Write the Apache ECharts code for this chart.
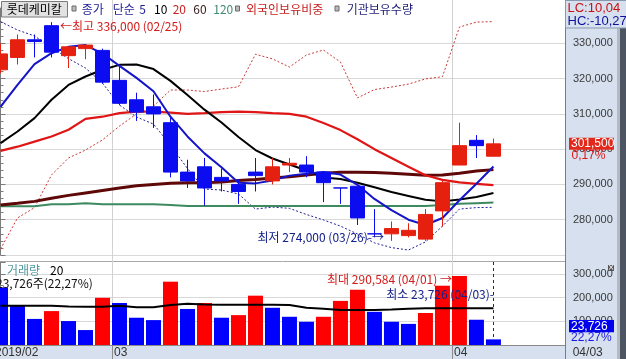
<!DOCTYPE html>
<html><head><meta charset="utf-8">
<script src="https://cdn.jsdelivr.net/npm/echarts@6/dist/echarts.min.js"></script>
<style>html,body{margin:0;padding:0;background:#fff;}#c{width:626px;height:359px;}</style>
</head><body><div id="c"></div>
<script>
// ---- data ----
const dates = ['2019/02/20','2019/02/21','2019/02/22','2019/02/25','2019/02/26','2019/02/27','2019/02/28',
  '2019/03/04','2019/03/05','2019/03/06','2019/03/07','2019/03/08','2019/03/11','2019/03/12','2019/03/13',
  '2019/03/14','2019/03/15','2019/03/18','2019/03/19','2019/03/20','2019/03/21','2019/03/22','2019/03/25',
  '2019/03/26','2019/03/27','2019/03/28','2019/03/29','2019/04/01','2019/04/02','2019/04/03'];
const opens  = [322500,326000,331000,335000,326500,328500,328000,319500,314000,312000,307500,293500,295000,292000,290000,293500,291000,295500,295500,293500,289000,289500,276000,276000,275500,274500,282500,295500,302500,298000];
const closes = [327000,331000,330500,327500,329000,329500,319000,313000,310500,310000,293500,291000,289000,291000,288000,292500,295000,296000,293500,290500,289000,280500,276000,277500,277000,281500,290500,301000,301000,301500];
const lows   = [321500,324000,326000,326000,323000,325500,318500,312500,308000,306000,292000,289000,284000,288000,284500,288000,290000,293500,292000,285000,284500,278500,275000,274000,275000,274000,278000,295500,297500,298000];
const highs  = [330000,332500,332500,336000,329000,329500,328500,324000,316000,315500,309000,297000,297500,294500,291500,297500,297500,297500,298000,293500,289000,289500,283000,279500,279000,283000,291000,307500,304000,303000];
const ma5   = [312000,318200,324100,327200,329000,329500,327100,323600,320200,316400,309200,303600,298800,294900,290500,290300,291100,292500,293000,293500,292800,289900,285900,282700,280000,278500,280500,285500,290200,295100];
const ma10  = [301700,305000,308800,314000,318200,320600,322500,323900,324000,322700,319350,315350,311200,307550,303450,299750,297350,295650,293950,292000,291550,290500,289200,287850,286750,285650,285200,285700,286450,287550];
const ma20  = [299500,300700,302150,303600,305500,308600,309200,310200,310650,310650,310370,310000,310200,310480,310650,310500,310200,310000,309200,307400,305400,302800,300000,297500,295000,292600,291300,290600,290150,289800];
const ma60  = [284200,284650,285200,286100,286900,287600,288300,289000,289600,290000,290370,290450,290450,290700,291150,291400,291850,292150,292700,293150,293480,293430,293370,293200,292900,292600,292700,293200,293800,294200];
const ma120 = [283800,283800,283800,284400,284400,284700,284400,284400,284400,284400,284200,283900,283900,283900,283900,283900,283900,283900,283900,283900,283900,283900,283900,283900,283900,283900,284150,284500,284700,284900];
// overlay indicators, each on its own (relative, 0-100) scale
const foreignRatio = [2.4,15.0,19.2,32.4,39.3,42.5,46.6,52.2,57.1,60.3,66.8,66.8,66.2,67.2,68.1,81.3,79.4,76.1,81.0,83.0,78.1,63.6,67.0,68.0,69.2,71.3,72.2,92.3,94.3,94.5];
const instHolding  = [94.5,91.1,88.7,84.0,79.5,75.7,69.6,60.7,55.9,53.0,44.5,35.0,26.7,26.3,24.7,18.6,19.4,18.9,16.4,14.2,11.7,8.5,4.9,3.0,2.0,5.3,11.7,18.6,19.2,19.3];
const volumes = [243000,166000,110000,143000,101000,63000,199000,177000,115000,105000,267000,152000,177000,115000,126000,208000,157000,119000,98000,119000,186000,233000,140000,98000,89000,135000,250000,290584,106540,23726];
const volMa20 = [166000,166000,166000,165000,162000,161000,161000,166000,159000,159000,169000,174000,171000,170000,170000,170000,170000,169000,157000,153000,148000,148000,148000,150000,153000,155000,155000,155000,155000,155000];
const monthLabels = ['2019/02','03','04'];
const legendTexts = ['종가','단순','5','10','20','60','120','외국인보유비중','기관보유수량'];
const titleText = '롯데케미칼';
const volTitle = ['거래량','20'];
const volInfo = '23,726주(22,27%)';
const volPct = '22,27%';
const lcText = 'LC:10,04', hcText = 'HC:-10,27';

// ---- chart ----
const KR = '"Noto Sans CJK KR"';
const fmt = v => String(v).replace(/\B(?=(\d{3})+(?!\d))/g, ',');
const idx = dates.map((d, i) => i);
const XMIN = -0.03, XMAX = 33.21;
const RED = '#e6200f', BLUE = '#0c0cf0';

const lineS = (data, color, width, yAxisIndex, type) => ({
  type: 'line', xAxisIndex: 0, yAxisIndex: yAxisIndex || 0,
  data: idx.map(i => [i, data[i]]), showSymbol: false, symbol: 'none', silent: true,
  lineStyle: { color, width, type: type || 'solid' }, z: 2
});

const axisCommon = {
  position: 'right', axisLine: { show: true, lineStyle: { color: '#7c7c7c' } },
  axisTick: { show: true, length: 5, lineStyle: { color: '#7c7c7c' } },
  axisLabel: { margin: 8, color: '#3a3a3a', fontSize: 11, fontFamily: 'Liberation Sans' }
};

const option = {
  animation: false,
  backgroundColor: '#ffffff',
  grid: [
    { left: 0, right: 61, top: 8.04, height: 246.96 },
    { left: 0, right: 61, top: 262, height: 83 }
  ],
  xAxis: [
    { gridIndex: 0, type: 'value', min: XMIN, max: XMAX, show: false },
    { gridIndex: 1, type: 'value', min: XMIN, max: XMAX,
      axisLine: { show: true, lineStyle: { color: '#8a8a8a' } },
      axisTick: { show: false }, axisLabel: { show: false }, splitLine: { show: false } }
  ],
  yAxis: [
    Object.assign({}, axisCommon, { gridIndex: 0, type: 'value', min: 270000, max: 340000, interval: 10000,
      minorTick: { show: true, splitNumber: 5, length: 3, lineStyle: { color: '#7c7c7c' } },
      axisLabel: Object.assign({}, axisCommon.axisLabel, { formatter: v => (v >= 280000 && v <= 330000) ? fmt(v) : '' }),
      splitLine: { show: true, showMaxLine: false, lineStyle: { color: '#d9d9d9' } } }),
    { gridIndex: 0, type: 'value', min: 0, max: 100, show: false },
    Object.assign({}, axisCommon, { gridIndex: 1, type: 'value', min: 0, max: 350000, interval: 100000,
      minorTick: { show: true, splitNumber: 2, length: 3, lineStyle: { color: '#7c7c7c' } },
      axisLabel: Object.assign({}, axisCommon.axisLabel, { formatter: v => (v > 0 && v <= 300000) ? fmt(v) : '' }),
      splitLine: { show: true, showMinLine: false, showMaxLine: false, lineStyle: { color: '#d9d9d9' } } })
  ],
  series: [
    lineS(foreignRatio, '#c83a3a', 1, 1, [2, 2]),
    lineS(instHolding, '#20209a', 1, 1, [2, 2]),
    lineS(ma120, '#3d8a60', 2),
    lineS(ma60, '#5e0808', 3),
    lineS(ma20, '#e01515', 2.2),
    lineS(ma10, '#000000', 2),
    lineS(ma5, '#1414c8', 2),
    { type: 'candlestick', xAxisIndex: 0, yAxisIndex: 0, z: 3,
      data: idx.map(i => [i, opens[i], closes[i], lows[i], highs[i]]),
      encode: { x: 0, y: [1, 2, 3, 4] }, barWidth: 14,
      itemStyle: { color: RED, color0: BLUE, borderColor: RED, borderColor0: BLUE, borderWidth: 1 } },
    { type: 'bar', xAxisIndex: 1, yAxisIndex: 2, barWidth: 15, z: 2,
      data: volumes.map((v, i) => ({ value: [i, v], itemStyle: { color: (i > 0 && v > volumes[i - 1]) ? '#ff0000' : '#0000ff' } })),
      markLine: { silent: true, symbol: 'none', label: { show: false },
        lineStyle: { color: '#1e1e8c', width: 1, type: [3, 3] },
        data: [[{ coord: [idx.length - 1, 350000] }, { coord: [idx.length - 1, volumes[volumes.length - 1]] }]] } },
    { type: 'line', xAxisIndex: 1, yAxisIndex: 2, data: idx.map(i => [i, volMa20[i]]), showSymbol: false, symbol: 'none',
      silent: true, lineStyle: { color: '#000', width: 2 }, z: 3 }
  ]
};

const chart = echarts.init(document.getElementById('c'));
chart.setOption(option);

const P = (k, v) => chart.convertToPixel({ xAxisIndex: 0, yAxisIndex: 0 }, [k, v]);
const V = (k, v) => chart.convertToPixel({ xAxisIndex: 1, yAxisIndex: 2 }, [k, v]);
const T = (x, y, text, fill, font, align) => ({ type: 'text', z: 30, silent: true,
  style: { x, y, text, fill, font, align: align || 'left', verticalAlign: 'middle' } });
const R = (x, y, w, h, fill, stroke, z) => ({ type: 'rect', z: z == null ? 30 : z, silent: true,
  shape: { x, y, width: w, height: h }, style: { fill, stroke: stroke || null, lineWidth: 1 } });
const L = (x1, y1, x2, y2, color, z) => ({ type: 'line', z: z == null ? 1 : z, silent: true,
  shape: { x1, y1, x2, y2 }, style: { stroke: color, lineWidth: 1 } });

const g = [];
const BG = '#d6e0ee';
// right panel + bottom strip backgrounds
g.push(R(565, 0, 52, 359, BG, null, -1));
g.push(R(0, 345.5, 565, 14, BG, null, -1));
g.push(R(617, 0, 3, 359, '#b4bac4', null, -1));
g.push(R(620, 0, 6, 359, '#4d5563', null, -1));
g.push(L(565.5, 0, 565.5, 359, '#7c7c7c', 6));
// panel divider
g.push(L(0, 261.5, 565, 261.5, '#a8a8a8', 1));
// month separators
const halfBar = 7.5;
const monthStart = idx.filter(i => i === 0 || dates[i].slice(0, 7) !== dates[i - 1].slice(0, 7));
monthStart.forEach((k, j) => {
  const sx = Math.round(P(k, 0)[0] - halfBar) + 0.5;
  g.push(L(sx, 0, sx, 345, '#d2d2d2', 1));
  g.push(L(sx, 345, sx, 359, '#8c8c8c', 6));
  g.push(T(sx + 1.5, 353, monthLabels[j], '#333', '12px "Liberation Sans"'));
});
g.push(T(572.7, 353, dates[dates.length - 1].slice(5), '#333', '12px "Liberation Sans"'));

// legend row
g.push(R(1.5, 1.5, 66, 15.5, '#e2e2e2', '#7a7a7a'));
g.push(T(6.7, 9, titleText, '#000', '12px ' + KR));
[72, 235.5, 335].forEach(x => g.push(R(x, 6, 4, 5, '#bcbcbc', '#6a6a6a')));
const legX = [81.7, 112.7, 139.3, 154, 172.7, 193.3, 213.3, 246, 346.7];
const legC = ['#1e1e96', '#1e1e96', '#1e1e96', '#000000', '#c81e1e', '#3a2020', '#3c8c6e', '#c81e1e', '#1e1e78'];
legendTexts.forEach((t, i) => g.push(T(legX[i], 9, t, legC[i], '12px ' + KR)));

// LC / HC box
g.push(R(565.5, 0.5, 61, 27.5, BG, '#8898b0'));
g.push(T(567.5, 8, lcText, '#cc1010', '13px "Liberation Sans"'));
g.push(T(567.5, 21, hcText, '#1010a0', '13px "Liberation Sans"'));

// high / low annotations
const hiIdx = highs.indexOf(Math.max(...highs));
const loIdx = lows.indexOf(Math.min(...lows));
const hp = P(hiIdx, highs[hiIdx]);
g.push(T(hp[0] + 8.5, hp[1] + 4, '←최고 ' + fmt(highs[hiIdx]) + ' (' + dates[hiIdx].slice(5) + ')', '#d41a1a', '12px ' + KR));
const lp = P(loIdx, lows[loIdx]);
g.push(T(lp[0] - 7.5, lp[1] - 3, '최저 ' + fmt(lows[loIdx]) + ' (' + dates[loIdx].slice(5) + ')-→', '#14208c', '12px ' + KR, 'right'));

// volume annotations
const vmaxI = volumes.indexOf(Math.max(...volumes));
const vminI = volumes.indexOf(Math.min(...volumes));
const vp = V(vmaxI, volumes[vmaxI]);
g.push(T(vp[0] - 7.5, vp[1] + 3.3, '최대 ' + fmt(volumes[vmaxI]) + ' (' + dates[vmaxI].slice(5) + ') →', '#d41a1a', '12px ' + KR, 'right'));
const vq = V(vminI, volumes[vminI]);
g.push(T(vq[0] + 0.5, 294.3, '최소 ' + fmt(volumes[vminI]) + ' (' + dates[vminI].slice(5) + ')-', '#14208c', '12px ' + KR, 'right'));
g.push(T(7, 270, volTitle[0], '#4f9aa0', '12px ' + KR));
g.push(T(50, 270, volTitle[1], '#000', '12px ' + KR));
g.push(T(-4, 283.3, volInfo, '#111', '12px ' + KR));

// right axis current value boxes
const n = closes.length - 1;
const cp = P(n, closes[n]);
g.push(R(569, cp[1] - 6, 45, 12, '#e2281a'));
g.push(T(571, cp[1], fmt(closes[n]), '#fff', '12px "Liberation Sans"'));
const chg = ((closes[n] / closes[n - 1] - 1) * 100).toFixed(2).replace('.', ',');
g.push(T(571.5, cp[1] + 11.5, chg + '%', '#e01818', '12px "Liberation Sans"'));
g.push(R(569, 320, 45, 12.3, '#0000ee'));
g.push(T(571, 326.2, fmt(volumes[n]), '#fff', '12px "Liberation Sans"'));
g.push(T(571, 337.6, volPct, '#1a1ae0', '12px "Liberation Sans"'));
g.push(R(608, 265, 6, 6, '#555'));
g.push(T(611, 267.8, '×', '#fff', '8px "DejaVu Sans"', 'center'));

chart.setOption({ graphic: { elements: g } });
</script>
</body></html>
